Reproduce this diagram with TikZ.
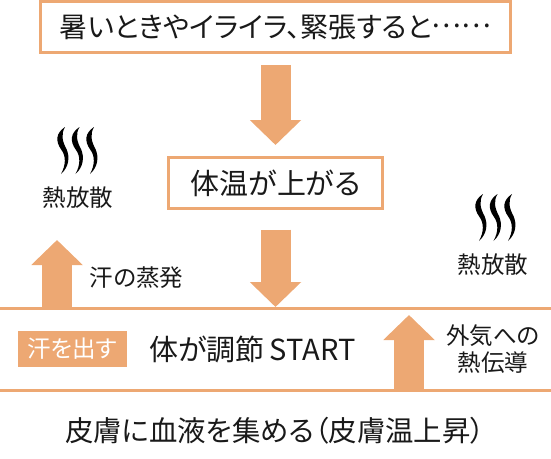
\documentclass[tikz,border=0pt]{standalone}
\usepackage{fontspec}
\setmainfont[RawFeature=+palt]{Noto Sans CJK JP}
\usepackage{xcolor}
\usetikzlibrary{arrows.meta,positioning,calc}
\definecolor{skin}{HTML}{EDA873}

\begin{document}
\begin{tikzpicture}[
  x=1pt, y=-1pt,
  box/.style={draw=skin, line width=3pt, fill=white, inner sep=0pt, align=center},
  word/.style={inner sep=0pt, align=center, font=\fontsize{23.5}{27}\selectfont, text=black!90},
  tag/.style={fill=skin, text=white, inner sep=0pt, minimum width=109pt, minimum height=36pt,
              font=\fontsize{23.5}{27}\selectfont},
  bigar/.style={draw=skin, line width=30pt, -{Triangle[width=50pt,length=25pt]}},
  band/.style={draw=skin, line width=3pt},
  steam/.pic={
    \foreach \dx in {0,14.5,29}
      \fill[black, shift={(\dx,0)}] (0,0) .. controls (-9,6) and (-10,14) .. (-3.5,23)
        .. controls (1,29) and (1,38) .. (-4,47) .. controls (4,40) and (5,30) .. (1.5,22)
        .. controls (-3,14) and (-4,7) .. (0,0) -- cycle;
  },
]
  \useasboundingbox (0,0) rectangle (551,458);
  % boxes
  \node[box, minimum width=470pt, minimum height=51pt, text=black!90, font=\fontsize{28}{32}\selectfont] (trigger) at (275.5,27)
    {暑いときやイライラ、緊張すると\raisebox{0.34em}{……}};
  \node[box, minimum width=214pt, minimum height=51pt, text=black!90, font=\fontsize{29}{33}\selectfont] (temp) at (275.5,183)
    {体温が上がる};
  % band
  \coordinate (bandtl) at (0,308.5);
  \coordinate (bandtr) at (551,308.5);
  \coordinate (bandbl) at (0,390.5);
  \coordinate (bandbr) at (551,390.5);
  \draw[band] (bandtl) -- (bandtr);
  \draw[band] (bandbl) -- (bandbr);
  \node[tag] (sweat) at (72.5,349) {汗を出す};
  \node[word, font=\fontsize{29}{33}\selectfont] (start) at (252.5,349) {体が調節\,START};
  \node[word, font=\fontsize{28.4}{32}\selectfont] (skin) at (275,431) {皮膚に血液を集める（皮膚温上昇）};
  % arrows
  \coordinate (evapfoot) at (57,308);
  \coordinate (evaptip) at (57,240);
  \coordinate (condfoot) at (409,390);
  \coordinate (condtip) at (409,315);
  \draw[bigar, shorten <=11pt, shorten >=11pt] (trigger.south) -- (temp.north);
  \draw[bigar, shorten <=19.5pt, shorten >=1.5pt] (temp.south) -- (temp.south |- bandtl);
  \draw[bigar] (evapfoot) -- (evaptip);
  \draw[bigar] (condfoot) -- (condtip);
  % labels
  \node[word] (evap) at (136.5,278) {汗の蒸発};
  \node[word] (cond) at (493,349.5) {外気への\\熱伝導};
  \node[word] (heatl) at (78,198) {熱放散};
  \node[word] (heatr) at (493,265) {熱放散};
  % steam marks
  \pic at (65,127) {steam};
  \pic at (483,194) {steam};
\end{tikzpicture}
\end{document}
